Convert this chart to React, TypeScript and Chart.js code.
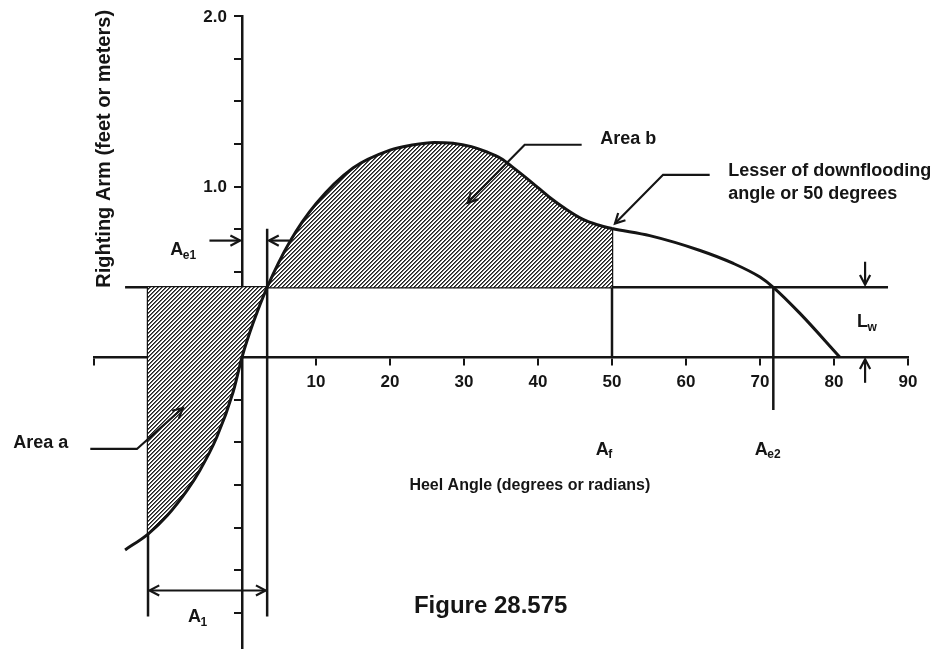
import React, { useEffect, useRef } from 'react';
import { Chart, registerables } from 'chart.js';

Chart.register(...registerables);

// ---- data ----
const heelAngle = [
  -15.8, -12.7, -10.1, -7.4, -5.7, -3.4, -1.2, 0, 1.5, 3.4, 6.5, 10, 15, 20, 23, 26, 28.5, 31,
  33, 35, 37, 39.3, 41.5, 43.9, 46, 48, 50, 55.1, 61.9, 66.4, 70, 71.8, 75.4, 80.8,
];
const rightingArm = [
  -1.13, -1.037, -0.928, -0.779, -0.664, -0.468, -0.204, 0, 0.2, 0.41, 0.68, 0.9, 1.11, 1.215,
  1.245, 1.26, 1.255, 1.235, 1.205, 1.165, 1.1, 1.02, 0.94, 0.865, 0.81, 0.777, 0.755, 0.713,
  0.626, 0.55, 0.47, 0.41, 0.257, 0,
];

const xTickValues = [-20, -10, 0, 10, 20, 30, 40, 50, 60, 70, 80, 90];
const xTickLabels = ['', '', '', '10', '20', '30', '40', '50', '60', '70', '80', '90'];
const yTickValues = [-1.5, -1.25, -1, -0.75, -0.5, -0.25, 0, 0.25, 0.5, 0.75, 1, 1.25, 1.5, 1.75, 2];
const yTickLabels = ['', '', '', '', '', '', '', '', '', '', '1.0', '', '', '', '2.0'];

const heelingArmLw = 0.41;
const angleA1Start = -12.7;
const angleAe1 = 3.4;
const angleAf = 50;
const angleAe2 = 71.8;
const lwLineRange = [-15.8, 87.3];
const dropBottom = -1.52;
const ae1Top = 0.754;
const ae2Bottom = -0.31;

// ---- annotation layout (data units) ----
const leaders = [
  [[45.9, 1.246], [38.2, 1.246], [30.5, 0.906]],
  [[63.2, 1.07], [56.9, 1.07], [50.4, 0.784]],
  [[-20.5, -0.538], [-14.2, -0.538], [-8.0, -0.298]],
];
const singleArrows = [
  [-4.4, 0.684, -0.25, 0.684],
  [6.4, 0.684, 3.65, 0.684],
  [84.2, 0.56, 84.2, 0.425],
  [84.2, -0.15, 84.2, -0.012],
];
const doubleArrows = [[angleA1Start + 0.2, -1.368, angleAe1 - 0.2, -1.368]];
const plainTexts = [
  { text: 'Area a', x: -30.9, y: -0.503, align: 'left', size: 18 },
  { text: 'Area b', x: 48.4, y: 1.28, align: 'left', size: 18 },
  { text: 'Lesser of downflooding', x: 65.7, y: 1.094, align: 'left', size: 18 },
  { text: 'angle or 50 degrees', x: 65.7, y: 0.96, align: 'left', size: 18 },
  { text: 'Heel Angle (degrees or radians)', x: 38.9, y: -0.754, align: 'center', size: 16 },
  { text: 'Figure 28.575', x: 33.6, y: -1.462, align: 'center', size: 24 },
];
const subTexts = [
  { main: 'A', sub: 'e1', x: -9.7, y: 0.626 },
  { main: 'L', sub: 'w', x: 83.1, y: 0.205 },
  { main: 'A', sub: 'f', x: 47.8, y: -0.544 },
  { main: 'A', sub: 'e2', x: 69.3, y: -0.544 },
  { main: 'A', sub: '1', x: -7.3, y: -1.526 },
];
const yTitle = { text: 'Righting Arm (feet or meters)', x: -18.6, y: 1.222, size: 20 };

const INK = '#151515';
const FONT = '"Liberation Sans", Arial, Helvetica, sans-serif';

function head(ctx: CanvasRenderingContext2D, x1: number, y1: number, x2: number, y2: number) {
  const a = Math.atan2(y2 - y1, x2 - x1);
  const s = 11;
  const w = Math.PI / 6.5;
  ctx.beginPath();
  ctx.moveTo(x2 - s * Math.cos(a - w), y2 - s * Math.sin(a - w));
  ctx.lineTo(x2, y2);
  ctx.lineTo(x2 - s * Math.cos(a + w), y2 - s * Math.sin(a + w));
  ctx.stroke();
}

const annotationPlugin = {
  id: 'figureAnnotations',
  beforeDraw(chart: any) {
    const { ctx, width, height } = chart;
    ctx.save();
    ctx.fillStyle = '#ffffff';
    ctx.fillRect(0, 0, width, height);
    ctx.restore();
  },
  afterDraw(chart: any) {
    const ctx: CanvasRenderingContext2D = chart.ctx;
    const xs = chart.scales.x;
    const ys = chart.scales.y;
    const px = (v: number) => xs.getPixelForValue(v);
    const py = (v: number) => ys.getPixelForValue(v);
    ctx.save();
    ctx.strokeStyle = INK;
    ctx.fillStyle = INK;
    ctx.lineWidth = 2.2;
    ctx.lineCap = 'butt';
    ctx.lineJoin = 'miter';

    for (const pts of leaders) {
      ctx.beginPath();
      pts.forEach(([x, y], i) => (i ? ctx.lineTo(px(x), py(y)) : ctx.moveTo(px(x), py(y))));
      ctx.stroke();
      const a = pts[pts.length - 2];
      const b = pts[pts.length - 1];
      head(ctx, px(a[0]), py(a[1]), px(b[0]), py(b[1]));
    }
    for (const [x1, y1, x2, y2] of singleArrows) {
      ctx.beginPath();
      ctx.moveTo(px(x1), py(y1));
      ctx.lineTo(px(x2), py(y2));
      ctx.stroke();
      head(ctx, px(x1), py(y1), px(x2), py(y2));
    }
    for (const [x1, y1, x2, y2] of doubleArrows) {
      ctx.beginPath();
      ctx.moveTo(px(x1), py(y1));
      ctx.lineTo(px(x2), py(y2));
      ctx.stroke();
      head(ctx, px(x1), py(y1), px(x2), py(y2));
      head(ctx, px(x2), py(y2), px(x1), py(y1));
    }

    // y tick labels, placed left of the ticks
    ctx.font = `bold 17px ${FONT}`;
    ctx.textAlign = 'right';
    ctx.textBaseline = 'middle';
    yTickValues.forEach((v, i) => {
      if (yTickLabels[i]) ctx.fillText(yTickLabels[i], px(0) - 15, py(v) + 1);
    });

    for (const t of plainTexts) {
      ctx.font = `bold ${t.size}px ${FONT}`;
      ctx.textAlign = t.align as CanvasTextAlign;
      ctx.fillText(t.text, px(t.x), py(t.y));
    }
    for (const t of subTexts) {
      ctx.textAlign = 'left';
      ctx.font = `bold 18px ${FONT}`;
      const w = ctx.measureText(t.main).width;
      ctx.fillText(t.main, px(t.x), py(t.y));
      ctx.font = `bold 12px ${FONT}`;
      ctx.fillText(t.sub, px(t.x) + w - 0.5, py(t.y) + 5);
    }
    ctx.save();
    ctx.translate(px(yTitle.x), py(yTitle.y));
    ctx.rotate(-Math.PI / 2);
    ctx.font = `bold ${yTitle.size}px ${FONT}`;
    ctx.textAlign = 'center';
    ctx.fillText(yTitle.text, 0, 0);
    ctx.restore();
    ctx.restore();
  },
};

function makeHatch(): CanvasPattern | string {
  const c = document.createElement('canvas');
  c.width = 4;
  c.height = 4;
  const g = c.getContext('2d');
  if (!g) return '#999';
  const img = g.createImageData(4, 4);
  for (let y = 0; y < 4; y++) {
    for (let x = 0; x < 4; x++) {
      const k = (x + y) % 4;
      const v = k === 0 ? 30 : k === 1 ? 100 : 255;
      const i = (y * 4 + x) * 4;
      img.data[i] = v;
      img.data[i + 1] = v;
      img.data[i + 2] = v;
      img.data[i + 3] = 255;
    }
  }
  g.putImageData(img, 0, 0);
  const p = g.createPattern(c, 'repeat');
  return p || '#999';
}

function segLine(x1: number, y1: number, x2: number, y2: number) {
  return {
    data: [
      { x: x1, y: y1 },
      { x: x2, y: y2 },
    ],
    borderColor: INK,
    borderWidth: 2.5,
    pointRadius: 0,
    fill: false,
    tension: 0,
  };
}

export default function App() {
  const ref = useRef<HTMLCanvasElement | null>(null);

  useEffect(() => {
    if (!ref.current) return;
    const hatch = makeHatch();
    const curve = heelAngle.map((x, i) => ({ x, y: rightingArm[i] }));
    const inFill = (c: any) =>
      c.p0.parsed.x >= angleA1Start - 1e-9 && c.p1.parsed.x <= angleAf + 1e-9;

    const chart = new Chart(ref.current, {
      type: 'line',
      data: {
        datasets: [
          {
            data: curve,
            borderColor: INK,
            borderWidth: 3,
            pointRadius: 0,
            cubicInterpolationMode: 'monotone',
            backgroundColor: hatch as any,
            fill: { value: heelingArmLw },
            segment: {
              backgroundColor: (c: any) => (inFill(c) ? hatch : 'rgba(0,0,0,0)'),
              borderColor: () => INK,
              borderWidth: () => 3,
            },
          } as any,
          segLine(lwLineRange[0], heelingArmLw, lwLineRange[1], heelingArmLw),
          segLine(angleA1Start, heelingArmLw, angleA1Start, dropBottom),
          segLine(angleAe1, ae1Top, angleAe1, dropBottom),
          segLine(angleAf, rightingArm[heelAngle.indexOf(angleAf)], angleAf, 0),
          segLine(angleAe2, heelingArmLw, angleAe2, ae2Bottom),
        ],
      },
      options: {
        animation: false,
        responsive: true,
        maintainAspectRatio: false,
        events: [],
        layout: { padding: { left: 94, right: 27, top: 15, bottom: 0 } },
        plugins: { legend: { display: false }, tooltip: { enabled: false }, title: { display: false } },
        scales: {
          x: {
            type: 'linear',
            min: -20,
            max: 90,
            position: { y: 0 } as any,
            afterBuildTicks: (s: any) => {
              s.ticks = xTickValues.map((value) => ({ value }));
            },
            ticks: {
              autoSkip: false,
              maxRotation: 0,
              padding: 8,
              color: INK,
              font: { family: FONT, size: 17, weight: 'bold' },
              callback: (_v: any, i: number) => xTickLabels[i],
            },
            grid: { display: true, drawOnChartArea: false, drawTicks: true, tickLength: 7, color: INK, lineWidth: 2 },
            border: { display: true, color: INK, width: 2.5 },
          },
          y: {
            type: 'linear',
            min: -1.71,
            max: 2,
            position: { x: 0 } as any,
            afterBuildTicks: (s: any) => {
              s.ticks = yTickValues.map((value) => ({ value }));
            },
            ticks: {
              autoSkip: false,
              padding: 6,
              color: 'rgba(0,0,0,0)',
              font: { family: FONT, size: 17, weight: 'bold' },
              callback: (_v: any, i: number) => yTickLabels[i],
            },
            grid: { display: true, drawOnChartArea: false, drawTicks: true, tickLength: 7, color: INK, lineWidth: 2 },
            border: { display: true, color: INK, width: 2.5 },
          },
        },
      } as any,
      plugins: [annotationPlugin],
    });
    return () => chart.destroy();
  }, []);

  return (
    <div
      style={{
        position: 'absolute',
        left: 0,
        top: 0,
        width: 935,
        height: 649,
        overflow: 'hidden',
        background: '#fff',
      }}
    >
      <div style={{ position: 'relative', width: 935, height: 665 }}>
        <canvas ref={ref} />
      </div>
    </div>
  );
}
